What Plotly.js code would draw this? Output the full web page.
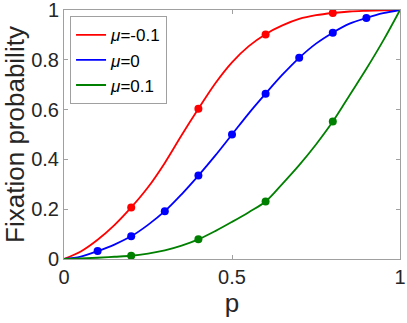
<!DOCTYPE html>
<html>
<head>
<meta charset="utf-8">
<script src="https://cdn.plot.ly/plotly-3.0.1.min.js"></script>
<style>
  body { margin: 0; padding: 0; background: #fff; }
  #chart { width: 407px; height: 323px; }
</style>
</head>
<body>
<div id="chart"></div>
<script>
// Curve samples (p step 0.05)
const pCurve = [0, 0.05, 0.1, 0.15, 0.2, 0.25, 0.3, 0.35, 0.4, 0.45, 0.5,
                0.55, 0.6, 0.65, 0.7, 0.75, 0.8, 0.85, 0.9, 0.95, 1];
const redCurve = [0, 0.03, 0.077, 0.136, 0.207, 0.288, 0.386, 0.497, 0.603, 0.705, 0.79,
                  0.855, 0.903, 0.938, 0.964, 0.979, 0.988, 0.994, 0.997, 0.999, 1];
const blueCurve = [0, 0.01, 0.032, 0.058, 0.091, 0.137, 0.192, 0.26, 0.335, 0.415, 0.5,
                   0.585, 0.664, 0.74, 0.808, 0.865, 0.909, 0.945, 0.968, 0.987, 1];
const greenCurve = [0, 0.002, 0.005, 0.009, 0.013, 0.022, 0.035, 0.054, 0.079, 0.112, 0.149,
                    0.188, 0.231, 0.302, 0.377, 0.46, 0.552, 0.658, 0.764, 0.877, 1];

// Simulated points (dots)
const pRed = [0.2, 0.4, 0.6, 0.8];
const redDots = [0.207, 0.603, 0.902, 0.988];
const pBlue = [0.1, 0.2, 0.3, 0.4, 0.5, 0.6, 0.7, 0.8, 0.9];
const blueDots = [0.032, 0.091, 0.192, 0.335, 0.5, 0.664, 0.808, 0.909, 0.968];
const pGreen = [0.2, 0.4, 0.6, 0.8];
const greenDots = [0.013, 0.079, 0.231, 0.552];

const names = ['<i>μ</i>=-0.1', '<i>μ</i>=0', '<i>μ</i>=0.1'];
const colors = ['#ff0000', '#0000ff', '#008000'];

function curve(y, i) {
    return {
        x: pCurve, y: y, type: 'scatter', mode: 'lines',
        name: names[i],
        line: { color: colors[i], width: 1.8, shape: 'spline' }
    };
}

function dots(x, y, i) {
    return {
        x: x, y: y, type: 'scatter', mode: 'markers',
        showlegend: false, cliponaxis: false,
        marker: { color: colors[i], size: 8 }
    };
}

const traces = [
    curve(redCurve, 0), curve(blueCurve, 1), curve(greenCurve, 2),
    dots(pRed, redDots, 0), dots(pBlue, blueDots, 1), dots(pGreen, greenDots, 2)
];

const axisCommon = {
    range: [0, 1],
    showgrid: false,
    zeroline: false,
    showline: true,
    linecolor: 'rgb(160,160,160)',
    linewidth: 1,
    mirror: 'ticks',
    ticks: 'inside',
    ticklen: 4,
    tickcolor: 'rgb(160,160,160)',
    ticklabeloverflow: 'allow',
    tickfont: { size: 20, color: '#262626' }
};

const layout = {
    width: 407,
    height: 323,
    margin: { l: 64, r: 7, t: 10, b: 64 },
    paper_bgcolor: '#fff',
    plot_bgcolor: '#fff',
    font: { family: '"Liberation Sans", Arial, sans-serif', color: '#262626' },
    xaxis: {
        ...axisCommon,
        tickvals: [0, 0.5, 1],
        ticktext: ['0', '0.5', '1'],
        title: { text: 'p', font: { size: 26 }, standoff: 2 }
    },
    yaxis: {
        ...axisCommon,
        tickvals: [0, 0.2, 0.4, 0.6, 0.8, 1],
        ticktext: ['0', '0.2', '0.4', '0.6', '0.8', '1'],
        title: { text: 'Fixation probability', font: { size: 26 }, standoff: 4 }
    },
    showlegend: true,
    legend: {
        x: 0.018, y: 0.975, xanchor: 'left', yanchor: 'top',
        bgcolor: '#fff',
        bordercolor: 'rgb(160,160,160)',
        borderwidth: 1,
        itemwidth: 30,
        font: { size: 17, color: '#000' },
        tracegroupgap: 0
    }
};

Plotly.newPlot('chart', traces, layout, { displayModeBar: false, staticPlot: true });
</script>
</body>
</html>
